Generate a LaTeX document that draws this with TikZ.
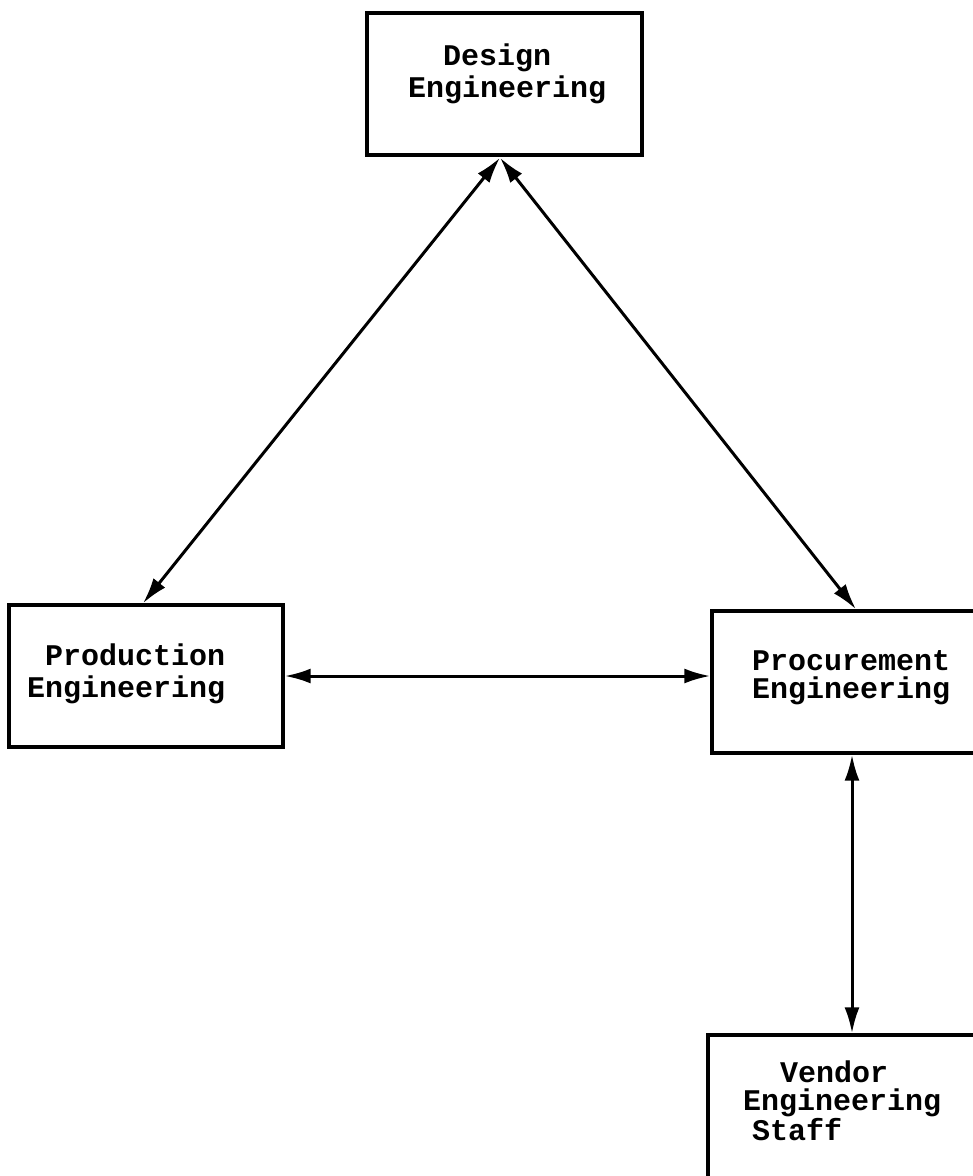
\documentclass[tikz,border=0pt]{standalone}
\usepackage{fontspec}
\setmonofont{Liberation Mono}
\usetikzlibrary{arrows.meta,calc}
\begin{document}
\begin{tikzpicture}[x=1pt,y=-1pt,
  box/.style={draw,line width=3.4pt,minimum width=#1,minimum height=142pt,inner sep=0pt},
  lab/.style={anchor=base west,inner sep=0pt,font=\ttfamily\bfseries\fontsize{30}{32}\selectfont},
  link/.style={line width=3pt,{Latex[length=26pt,width=15pt]}-{Latex[length=26pt,width=15pt]}}]
\useasboundingbox (0,0) rectangle (973,1176);
\clip (0,0) rectangle (973,1176);
\node[box=275pt] (design) at (504.5,84) {};
\node[box=274pt] (prod) at (146,676) {};
\node[box=288pt] (proc) at (856,682) {};
\node[box=292pt,minimum height=170pt] (vend) at (854,1120) {};
% labels
\node[lab] (d1) at (443,65) {Design};
\node[lab] (d2) at (408,97) {Engineering};
\node[lab] (p1) at (45,665) {Production};
\node[lab] (p2) at (27,697) {Engineering};
\node[lab] (q1) at (752,670) {Procurement};
\node[lab] (q2) at (752,698) {Engineering};
\node[lab] (v1) at (780,1082) {Vendor};
\node[lab] (v2) at (743,1110) {Engineering};
\node[lab] (v3) at (752,1140) {Staff};
% connectors
\coordinate (dtip) at ($(design.south)+(-4.5,1)$);
\draw[link] (dtip) -- ($(prod.north)+(-3,0)$);
\draw[link] (dtip) -- (proc.north);
\draw[link] (prod.east) -- (prod.east -| proc.west);
\draw[link] ($(proc.south)+(-4,0)$) -- ($(vend.north)+(-2,0)$);
\end{tikzpicture}
\end{document}
